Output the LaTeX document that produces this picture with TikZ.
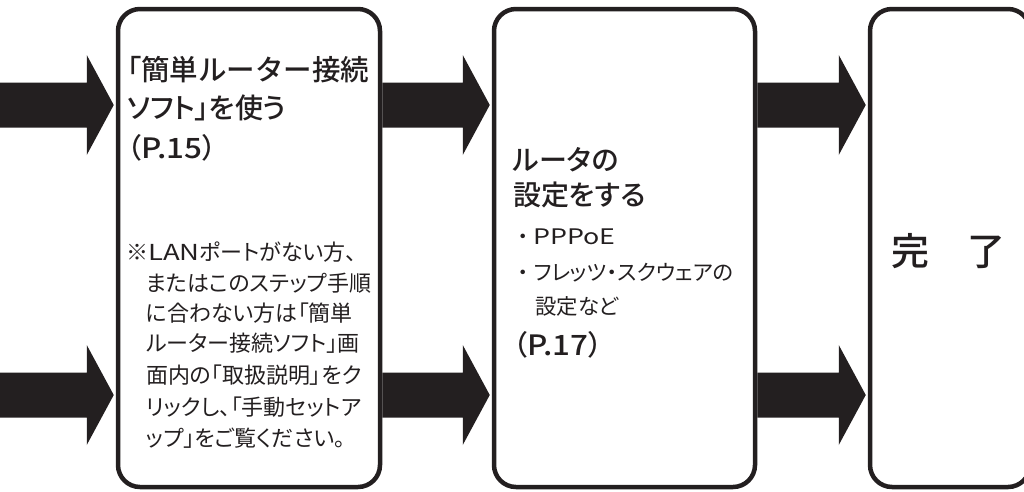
\documentclass[tikz,border=0pt]{standalone}
\usepackage{fontspec}
\setmainfont{Noto Sans CJK JP}[BoldFont={Noto Sans CJK JP Medium}, RawFeature=+palt]
\newfontfamily\nopalt{Noto Sans CJK JP}[BoldFont={Noto Sans CJK JP Medium}]
\usetikzlibrary{calc}
\definecolor{ink}{HTML}{231F20}
\newcommand\blockarrow[2]{%
  \fill[ink] let \p1=(#1), \p2=(#2) in
    (\x1,\y2+22.5pt) -- (\x2-27pt,\y2+22.5pt) -- (\x2-27pt,\y2+50pt) -- (\x2,\y2)
    -- (\x2-27pt,\y2-50pt) -- (\x2-27pt,\y2-22.5pt) -- (\x1,\y2-22.5pt) -- cycle;}
\newcommand\wide[1]{{\addfontfeature{FakeStretch=1.25}#1}}
\newcommand\wider[1]{{\addfontfeature{FakeStretch=1.12}#1}}
\tikzset{
  box/.style={draw=ink, line width=4.5pt, rounded corners=22pt, inner sep=0pt,
    minimum height=478pt},
  txt/.style={anchor=west, inner sep=0pt, text=ink},
  hd/.style={txt, font=\fontsize{28}{28}\selectfont\bfseries},
  body/.style={txt, font=\fontsize{22}{22}\selectfont},
  sub/.style={txt, font=\fontsize{21.4}{21.4}\selectfont},
  big/.style={txt, anchor=center, font=\fontsize{38}{38}\selectfont\bfseries},
}
\begin{document}
\begin{tikzpicture}[x=1pt,y=-1pt]
\useasboundingbox (0,0) rectangle (1024,491);
% boxes
\node[box, minimum width=262pt] (b1) at (249,248) {};
\node[box, minimum width=261pt] (b2) at (624.5,248) {};
\node[box, minimum width=160pt] (b3) at (950,248) {};
% arrow reference coordinates
\coordinate (lt) at (-5,105);
\coordinate (lb) at (-5,395);
\blockarrow{lt}{$(b1.west |- lt)+(-2,0)$}
\blockarrow{lb}{$(b1.west |- lb)+(-2,0)$}
\blockarrow{b1.east |- lt}{$(b2.west |- lt)+(-2,0)$}
\blockarrow{b1.east |- lb}{$(b2.west |- lb)+(-2,0)$}
\blockarrow{b2.east |- lt}{$(b3.west |- lt)+(-2,0)$}
\blockarrow{b2.east |- lb}{$(b3.west |- lb)+(-2,0)$}
% box 1 text
\node[hd] (t1a) at (127,70) {\fontsize{28.5}{28.5}\selectfont 「{\nopalt 簡単ルーター接続}};
\node[hd] (t1b) at (127,108) {ソフト」を使う};
\node[hd] (t1c) at (127,148) {（\wider{P.15}）};
\node[body] (n1) at (126,252) {※\wide{LAN}ポートがない方、};
\node[body] (n2) at (146,283) {またはこのステップ手順};
\node[body] (n3) at (146,313) {に合わない方は「簡単};
\node[body] (n4) at (146,343) {ルーター接続ソフト」画};
\node[body] (n5) at (146,375) {面内の「取扱説明」をク};
\node[body] (n6) at (146,407) {リックし、「手動セットア};
\node[body] (n7) at (146,438) {ップ」をご覧ください。};
% box 2 text
\node[hd] (t2a) at (513,160) {ルータの};
\node[hd] (t2b) at (513,195) {設定をする};
\node[sub] (s1) at (512,237) {{\nopalt ・}\wide{PPPoE}};
\node[sub] (s2) at (512,273) {{\nopalt ・}フレッツ・スクウェアの};
\node[sub] (s3) at (535,306) {設定など};
\node[hd] (t2c) at (513,345) {（\wider{P.17}）};
% box 3 text
\node[big] (t3) at (948,251) {完　了};
\end{tikzpicture}
\end{document}
